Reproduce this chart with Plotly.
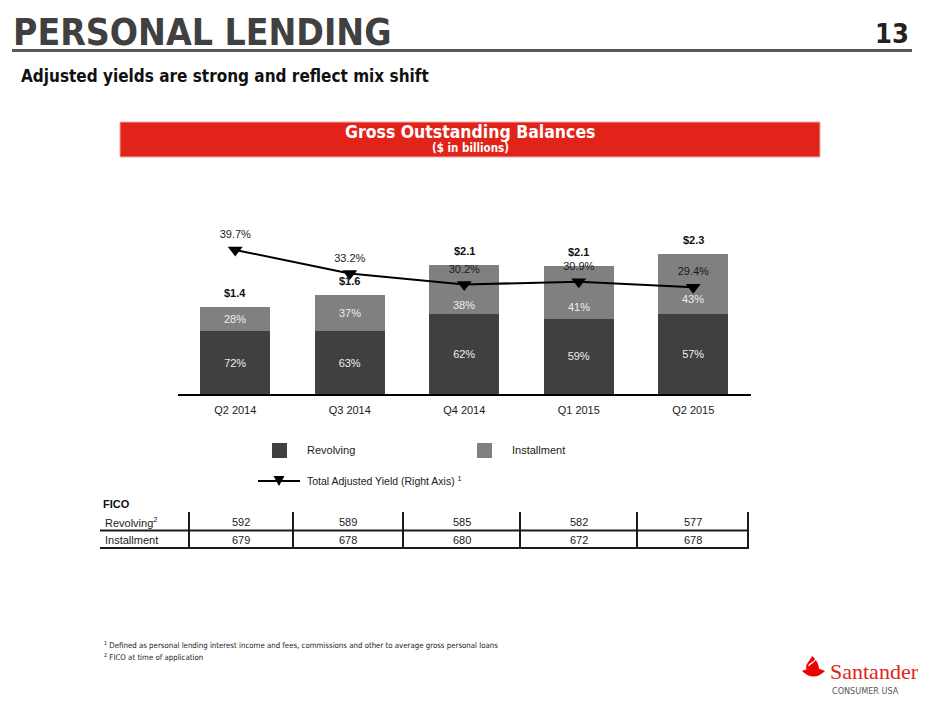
import plotly.graph_objects as go

W, H = 940, 705

# data
quarters = ["Q2 2014", "Q3 2014", "Q4 2014", "Q1 2015", "Q2 2015"]
total_balance = [1.42, 1.62, 2.10, 2.08, 2.28]  # $ billions
revolving_share = [72, 63, 62, 59, 57]
installment_share = [28, 37, 38, 41, 43]
adjusted_yield = [39.7, 33.2, 30.2, 30.9, 29.4]
fico_revolving = [592, 589, 585, 582, 577]
fico_installment = [679, 678, 680, 672, 678]

revolving_bal = [t * s / 100 for t, s in zip(total_balance, revolving_share)]
installment_bal = [t * s / 100 for t, s in zip(total_balance, installment_share)]

# installment % labels are pushed down where the yield line crosses the bar
inst_label_shift = [0, 0, -15, -14, -15]

SANS = "Liberation Sans, Arial, sans-serif"
NARROW = "Liberation Sans Narrow, Arial Narrow, DejaVu Sans Condensed, Liberation Sans, Arial, sans-serif"
DARK = "#404040"
LIGHT = "#808080"
RED = "#e2231a"


def px(x):
    return x / W


def py(y):
    return 1 - y / H


def pt(x, y):
    return f"{px(x):.5f},{py(y):.5f}"


fig = go.Figure()

fig.add_trace(go.Bar(
    x=quarters, y=revolving_bal, name="Revolving",
    marker=dict(color=DARK, line=dict(width=0)),
    text=[f"{s}%" for s in revolving_share], textposition="inside",
    insidetextanchor="middle", textfont=dict(color="#eeeeee", size=11, family=SANS),
    hoverinfo="skip", showlegend=False))
fig.add_trace(go.Bar(
    x=quarters, y=installment_bal, name="Installment",
    marker=dict(color=LIGHT, line=dict(width=0)),
    hoverinfo="skip", showlegend=False))
fig.add_trace(go.Scatter(
    x=quarters, y=adjusted_yield, yaxis="y2", mode="lines+markers+text",
    text=[f"{v:.1f}%" for v in adjusted_yield], textposition="top center",
    textfont=dict(color="#1a1a1a", size=11, family=SANS),
    line=dict(color="black", width=2),
    marker=dict(symbol="triangle-down", size=13, color="black"),
    hoverinfo="skip", showlegend=False))

annotations = []
shapes = []

# installment share labels and totals above the bars
for q, r, b, s, sh in zip(quarters, revolving_bal, installment_bal, installment_share, inst_label_shift):
    annotations.append(dict(x=q, y=r + b / 2, xref="x", yref="y", text=f"{s}%",
                            yshift=sh, font=dict(size=11, color="#eeeeee", family=SANS)))
for q, t in zip(quarters, total_balance):
    annotations.append(dict(x=q, y=t, xref="x", yref="y", text=f"<b>${t:.1f}</b>",
                            yanchor="bottom", yshift=6,
                            font=dict(size=11, color="#111111", family=SANS)))

# header
annotations += [
    dict(x=px(11), y=py(33), text="<b>PERSONAL LENDING</b>", xanchor="left",
         font=dict(size=37, color=DARK, family=NARROW)),
    dict(x=px(911), y=py(34), text="<b>13</b>", xanchor="right",
         font=dict(size=27, color="#222222", family=NARROW)),
    dict(x=px(19), y=py(76), text="<b>Adjusted yields are strong and reflect mix shift</b>",
         xanchor="left", font=dict(size=17, color="#111111", family=NARROW)),
    dict(x=px(470), y=py(132), text="<b>Gross Outstanding Balances</b>",
         font=dict(size=17.5, color="white", family=NARROW)),
    dict(x=px(470), y=py(148), text="<b>($ in billions)</b>",
         font=dict(size=11.5, color="white", family=NARROW)),
]
shapes += [
    dict(type="rect", x0=px(12), x1=px(912), y0=py(49), y1=py(52),
         fillcolor="#595959", line=dict(width=0)),
    dict(type="rect", x0=px(120), x1=px(820), y0=py(122), y1=py(157),
         fillcolor=RED, line=dict(color="#f2aaa6", width=1)),
]

# legend
shapes += [
    dict(type="rect", x0=px(272), x1=px(287), y0=py(443), y1=py(458),
         fillcolor=DARK, line=dict(width=0)),
    dict(type="rect", x0=px(477), x1=px(492), y0=py(443), y1=py(458),
         fillcolor=LIGHT, line=dict(width=0)),
    dict(type="line", x0=px(258), x1=px(300), y0=py(481), y1=py(481),
         line=dict(color="black", width=2)),
    dict(type="path", path=f"M{pt(273.5, 476)} L{pt(284.5, 476)} L{pt(279, 486)} Z",
         fillcolor="black", line=dict(width=0)),
]
annotations += [
    dict(x=px(305), y=py(450), text="Revolving", xanchor="left",
         font=dict(size=11, color="#1a1a1a", family=SANS)),
    dict(x=px(510), y=py(450), text="Installment", xanchor="left",
         font=dict(size=11, color="#1a1a1a", family=SANS)),
    dict(x=px(305), y=py(480), text="Total Adjusted Yield (Right Axis) <sup>1</sup>",
         xanchor="left", font=dict(size=10.5, color="#1a1a1a", family=SANS)),
]

# FICO table
col_edges = [189, 293, 403, 520, 637, 748]
row_y = [522, 540]
annotations.append(dict(x=px(101), y=py(504), text="<b>FICO</b>", xanchor="left",
                        font=dict(size=11, color="#111111", family=SANS)))
annotations.append(dict(x=px(103), y=py(row_y[0]), text="Revolving<sup>2</sup>", xanchor="left",
                        font=dict(size=11, color="#1a1a1a", family=SANS)))
annotations.append(dict(x=px(103), y=py(row_y[1]), text="Installment", xanchor="left",
                        font=dict(size=11, color="#1a1a1a", family=SANS)))
for i in range(len(quarters)):
    cx = (col_edges[i] + col_edges[i + 1]) / 2
    for ry, vals in zip(row_y, [fico_revolving, fico_installment]):
        annotations.append(dict(x=px(cx), y=py(ry), text=str(vals[i]),
                                font=dict(size=11, color="#1a1a1a", family=SANS)))
for yy in [530.5, 548]:
    shapes.append(dict(type="line", x0=px(100), x1=px(749), y0=py(yy), y1=py(yy),
                       line=dict(color="#1a1a1a", width=2)))
for xx in col_edges:
    shapes.append(dict(type="line", x0=px(xx), x1=px(xx), y0=py(512), y1=py(548),
                       line=dict(color="#1a1a1a", width=2)))

# footnotes
annotations += [
    dict(x=px(102), y=py(645),
         text="<sup>1</sup> Defined as personal lending interest income and fees, commissions and other to average gross personal loans",
         xanchor="left", font=dict(size=7.8, color="#1a1a1a", family=NARROW)),
    dict(x=px(102), y=py(657), text="<sup>2</sup> FICO at time of application",
         xanchor="left", font=dict(size=7.8, color="#1a1a1a", family=NARROW)),
]

# Santander logo (rough)
shapes += [
    dict(type="path",
         path=f"M{pt(802, 671)} Q{pt(813.5, 665)} {pt(825, 671)} Q{pt(813.5, 682)} {pt(802, 671)} Z",
         fillcolor="#ec0000", line=dict(width=0)),
    dict(type="path",
         path=f"M{pt(807, 670)} C{pt(804, 664)} {pt(810, 662)} {pt(812, 656)} "
              f"C{pt(818, 661)} {pt(819, 666)} {pt(819, 670)} Z",
         fillcolor="#ec0000", line=dict(width=0)),
    dict(type="path",
         path=f"M{pt(808.5, 666)} C{pt(810, 662.5)} {pt(815, 663)} {pt(815.5, 659)}",
         line=dict(color="white", width=1.2)),
]
annotations += [
    dict(x=px(828), y=py(671), text="Santander", xanchor="left",
         font=dict(size=22, color="#e2231a", family="Liberation Serif, DejaVu Serif, serif")),
    dict(x=px(830), y=py(691), text="CONSUMER USA", xanchor="left",
         font=dict(size=9, color="#555555", family=NARROW)),
]

for a in annotations:
    a.setdefault("xref", "paper")
    a.setdefault("yref", "paper")
    a.setdefault("xanchor", "center")
    a.setdefault("yanchor", "middle")
    a.setdefault("showarrow", False)
for s in shapes:
    s.setdefault("xref", "paper")
    s.setdefault("yref", "paper")
    s.setdefault("layer", "above")

fig.update_layout(
    width=W, height=H,
    margin=dict(l=0, r=0, t=0, b=0),
    paper_bgcolor="white", plot_bgcolor="white",
    barmode="stack", bargap=0.39,
    font=dict(family=SANS, color="#1a1a1a"),
    xaxis=dict(domain=[178 / W, 750.5 / W], range=[-0.5, 4.5], showline=True,
               linecolor="black", linewidth=1.5, ticks="", showgrid=False,
               ticklabelstandoff=5,
               tickfont=dict(size=11, color="#1a1a1a"), fixedrange=True),
    yaxis=dict(domain=[py(394), py(219.5)], range=[0, 175 / 61.5], visible=False,
               fixedrange=True),
    yaxis2=dict(domain=[py(394), py(219.5)], overlaying="y", range=[0, 175 / 3.64],
                visible=False, fixedrange=True),
    annotations=annotations, shapes=shapes,
    showlegend=False,
)

fig.write_html("out.html", config={"displayModeBar": False},
               post_script="document.body.style.margin='0';")
